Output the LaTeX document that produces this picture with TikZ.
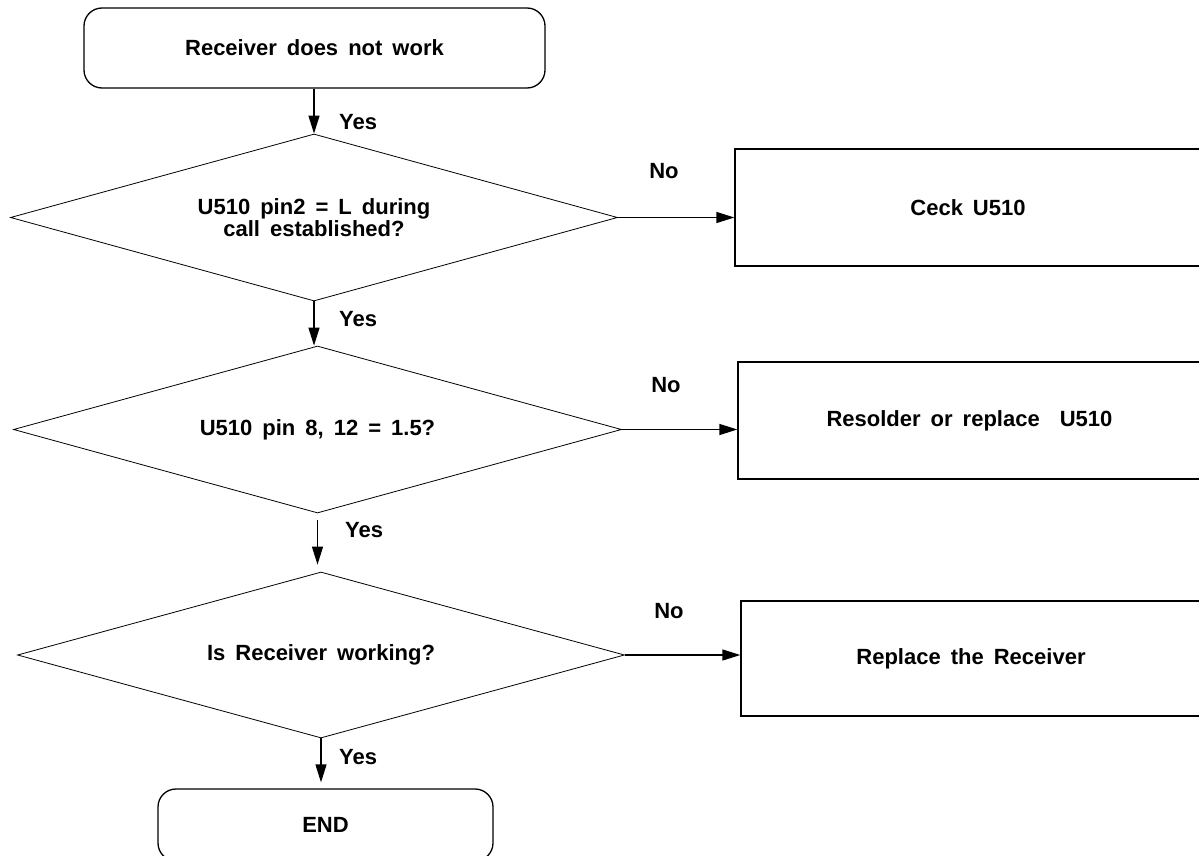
\documentclass[tikz,border=0pt]{standalone}
\usepackage{fontspec}
\setmainfont{Liberation Sans}[WordSpace=1.64]
\usetikzlibrary{shapes.geometric,arrows.meta}
\begin{document}
\begin{tikzpicture}[x=1pt,y=-1pt,
  txt/.style={font=\fontsize{22}{22}\selectfont\bfseries},
  rbox/.style={draw, line width=1.3pt, rounded corners=18pt, inner sep=0pt, txt},
  pbox/.style={draw, line width=1.3pt, inner sep=0pt, txt},
  dia/.style={draw, diamond, shape aspect=3.67, line width=0.8pt, inner sep=0pt, txt, align=center},
  arr/.style={-{Triangle[length=18pt,width=11pt]}, line width=1.3pt},
  lbl/.style={txt, inner sep=0pt}]
\useasboundingbox (0,0) rectangle (1199,856);

\node[rbox, minimum width=461pt, minimum height=80pt] (start) at (314.5,48) {Receiver does not work};
\node[dia, minimum width=607pt, minimum height=167pt] (d1) at (314,217.5) {U510 pin2 = L during\\call established?};
\node[pbox, minimum width=466pt, minimum height=117pt] (b1) at (968,207.5) {Ceck U510};
\node[dia, minimum width=608pt, minimum height=167pt] (d2) at (317.5,429.5) {U510 pin 8, 12 = 1.5?};
\node[pbox, minimum width=463pt, minimum height=117pt] (b2) at (969.5,420.5) {Resolder or replace\ \ U510};
\node[dia, minimum width=607pt, minimum height=166pt] (d3) at (321,655) {Is Receiver working?};
\node[pbox, minimum width=460pt, minimum height=115pt] (b3) at (971,658.5) {Replace the Receiver};
\node[rbox, minimum width=335pt, minimum height=72pt] (end) at (325.5,825) {END};

\draw[arr] (start.south -| d1.north) -- (d1.north);
\draw[arr] (d1.south) -- (d1.south |- d2.north);
\draw[arr, shorten <=7pt, shorten >=7pt] (d2.south) -- (d2.south |- d3.north);
\draw[arr, shorten >=6pt] (d3.south) -- (d3.south |- end.north);

\draw[arr] (d1.east) -- (d1.east -| b1.west);
\draw[arr] (d2.east) -- (d2.east -| b2.west);
\draw[arr] (d3.east) -- (d3.east -| b3.west);

\node[lbl, anchor=west] (y1) at (339,122) {Yes};
\node[lbl, anchor=west] (y2) at (339,319) {Yes};
\node[lbl, anchor=west] (y3) at (345,530) {Yes};
\node[lbl, anchor=west] (y4) at (339,757) {Yes};

\node[lbl] (n1) at (664,171) {No};
\node[lbl] (n2) at (666,385) {No};
\node[lbl] (n3) at (669,611) {No};
\end{tikzpicture}
\end{document}
